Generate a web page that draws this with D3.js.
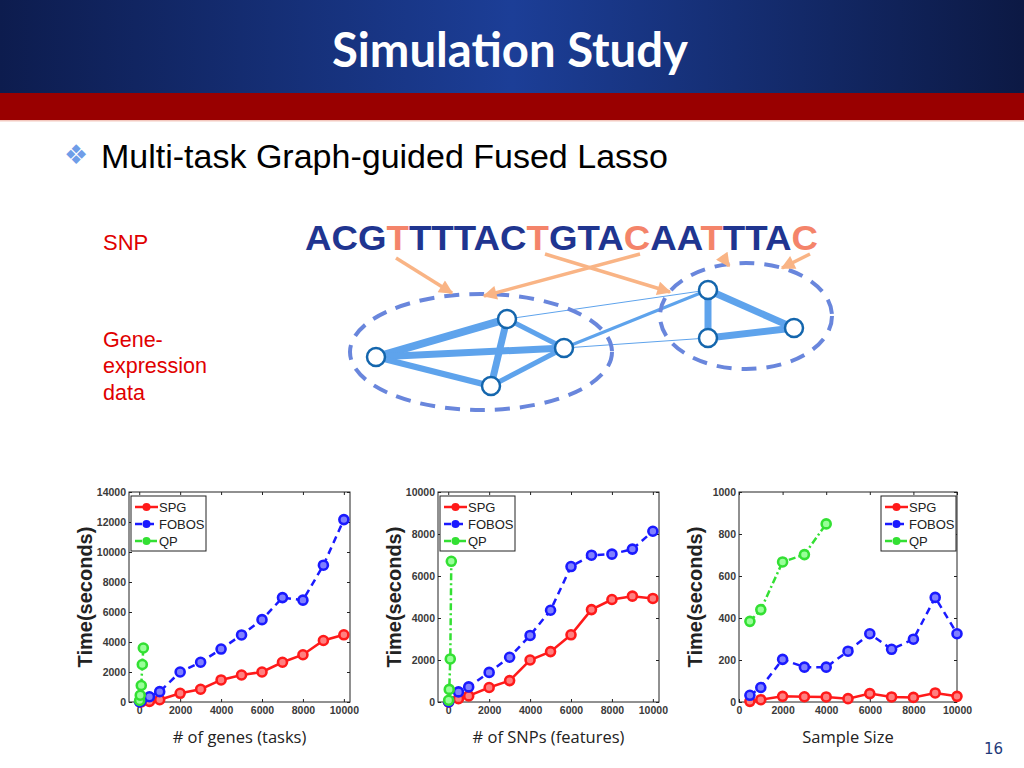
<!DOCTYPE html>
<html><head><meta charset="utf-8">
<script src="https://cdn.jsdelivr.net/npm/d3@7"></script>
<style>body{margin:0;background:#fff}svg{display:block}</style>
</head><body><svg id="s" width="1024" height="768"></svg>
<script>
// ---------- data ----------
const seriesNames = ["SPG", "FOBOS", "QP"];

// Panel 1: # of genes (tasks)
const genesSPG_x   = [100, 500, 1000, 2000, 3000, 4000, 5000, 6000, 7000, 8000, 9000, 10000];
const genesSPG_y   = [10, 40, 150, 580, 850, 1470, 1800, 2000, 2650, 3150, 4100, 4480];
const genesFOBOS_x = [20, 100, 500, 1000, 2000, 3000, 4000, 5000, 6000, 7000, 8000, 9000, 10000];
const genesFOBOS_y = [0, 80, 350, 690, 2000, 2650, 3530, 4470, 5490, 6960, 6790, 9120, 12160];
const genesQP_x    = [20, 50, 100, 150, 200];
const genesQP_y    = [100, 450, 1100, 2500, 3600];
const genesYTicks  = [0, 2000, 4000, 6000, 8000, 10000, 12000, 14000];

// Panel 2: # of SNPs (features)
const snpsSPG_x   = [20, 500, 1000, 2000, 3000, 4000, 5000, 6000, 7000, 8000, 9000, 10000];
const snpsSPG_y   = [0, 160, 290, 690, 1020, 2000, 2400, 3200, 4400, 4880, 5040, 4930];
const snpsFOBOS_x = [20, 500, 1000, 2000, 3000, 4000, 5000, 6000, 7000, 8000, 9000, 10000];
const snpsFOBOS_y = [0, 480, 720, 1410, 2130, 3170, 4370, 6450, 6990, 7040, 7280, 8130];
const snpsQP_x    = [20, 50, 100, 150];
const snpsQP_y    = [80, 600, 2050, 6700];
const snpsYTicks  = [0, 2000, 4000, 6000, 8000, 10000];

// Panel 3: Sample Size
const sampleX       = [500, 1000, 2000, 3000, 4000, 5000, 6000, 7000, 8000, 9000, 10000];
const sampleSPG_y   = [3, 11, 27, 25, 24, 16, 40, 24, 22, 43, 27];
const sampleFOBOS_y = [32, 69, 203, 166, 166, 242, 325, 251, 299, 498, 325];
const sampleQP_x    = [500, 1000, 2000, 3000, 4000];
const sampleQP_y    = [384, 440, 667, 702, 848];
const sampleYTicks  = [0, 200, 400, 600, 800, 1000];

const xTicks = [0, 2000, 4000, 6000, 8000, 10000];
const xLabels = ["# of genes (tasks)", "# of SNPs (features)", "Sample Size"];
const yLabel = "Time(seconds)";

// slide texts
const titleText = "Simulation Study";
const bulletText = "Multi-task Graph-guided Fused Lasso";
const dnaLetters = "ACGTTTTACTGTACAATTTAC".split("");
const dnaHighlight = [3, 9, 13, 16, 20];
const pageNumber = "16";

// ---------- drawing ----------
const svg = d3.select("#s");
const defs = svg.append("defs");
const g1 = defs.append("linearGradient").attr("id", "hdr").attr("x1", "0").attr("x2", "1").attr("y1", "0").attr("y2", "0");
g1.append("stop").attr("offset", "0").attr("stop-color", "#0d1c4e");
g1.append("stop").attr("offset", "0.5").attr("stop-color", "#1c3e97");
g1.append("stop").attr("offset", "1").attr("stop-color", "#0c1944");

svg.append("rect").attr("x", 0).attr("y", 0).attr("width", 1024).attr("height", 93).attr("fill", "url(#hdr)");
svg.append("rect").attr("x", 0).attr("y", 93).attr("width", 1024).attr("height", 27).attr("fill", "#990000");
svg.append("rect").attr("x", 0).attr("y", 120).attr("width", 1024).attr("height", 1.5).attr("fill", "#f3c9c0");

svg.append("text").attr("x", 510).attr("y", 67).attr("text-anchor", "middle")
  .attr("font-family", "Lato, 'Open Sans', sans-serif").attr("font-weight", "bold")
  .attr("font-size", 47).attr("fill", "#fff").attr("textLength", 356).attr("lengthAdjust", "spacingAndGlyphs").text(titleText);

svg.append("text").attr("x", 64).attr("y", 164).attr("font-family", "'DejaVu Sans', sans-serif")
  .attr("font-size", 27).attr("fill", "#6f9de8").text("\u2756");
svg.append("text").attr("x", 101).attr("y", 168).attr("font-family", "'Liberation Sans', Arial, sans-serif")
  .attr("font-size", 34).attr("fill", "#000").text(bulletText);

const redFont = "'Liberation Sans', Arial, sans-serif";
svg.append("text").attr("x", 103).attr("y", 250).attr("font-family", redFont).attr("font-size", 22).attr("fill", "#e00000").text("SNP");
[["Gene-", 347], ["expression", 373], ["data", 400]].forEach(([t, y]) =>
  svg.append("text").attr("x", 103).attr("y", y).attr("font-family", redFont).attr("font-size", 21.5).attr("fill", "#e00000").text(t));

// DNA string
const dna = svg.append("text").attr("x", 305).attr("y", 250).attr("font-family", redFont)
  .attr("font-weight", "bold").attr("font-size", 35).attr("textLength", 513).attr("lengthAdjust", "spacingAndGlyphs");
dnaLetters.forEach((c, i) => dna.append("tspan").attr("fill", dnaHighlight.includes(i) ? "#f4846a" : "#1f3590").text(c));

// graph diagram
const ellipses = [
  {cx: 481, cy: 352, rx: 131, ry: 58},
  {cx: 746, cy: 316, rx: 86, ry: 53}
];
const nodes = [
  {x: 376, y: 357}, {x: 507, y: 319}, {x: 564, y: 348}, {x: 491, y: 386},
  {x: 708, y: 290}, {x: 708, y: 338}, {x: 794, y: 328}
];
const edges = [
  [0, 1, 8], [0, 2, 7], [0, 3, 6], [1, 3, 7], [1, 2, 5], [2, 3, 5],
  [4, 5, 7], [4, 6, 7], [5, 6, 7], [1, 4, 1], [2, 4, 3], [2, 5, 1]
];
svg.selectAll(".edge").data(edges).join("line").attr("class", "edge")
  .attr("x1", d => nodes[d[0]].x).attr("y1", d => nodes[d[0]].y)
  .attr("x2", d => nodes[d[1]].x).attr("y2", d => nodes[d[1]].y)
  .attr("stroke", "#5ea3ec").attr("stroke-width", d => d[2]);
svg.selectAll(".ell").data(ellipses).join("ellipse").attr("class", "ell")
  .attr("cx", d => d.cx).attr("cy", d => d.cy).attr("rx", d => d.rx).attr("ry", d => d.ry)
  .attr("fill", "none").attr("stroke", "#6986dc").attr("stroke-width", 4).attr("stroke-dasharray", "15,10");
svg.selectAll(".node").data(nodes).join("circle").attr("class", "node")
  .attr("cx", d => d.x).attr("cy", d => d.y).attr("r", 9)
  .attr("fill", "#fff").attr("stroke", "#1466ad").attr("stroke-width", 2.5);

// arrows
defs.append("marker").attr("id", "ah").attr("viewBox", "0 0 10 10").attr("refX", 9).attr("refY", 5)
  .attr("markerWidth", 16).attr("markerHeight", 14).attr("markerUnits", "userSpaceOnUse").attr("orient", "auto")
  .append("path").attr("d", "M0,0 L10,5 L0,10 Z").attr("fill", "#f9b485");
const arrows = [
  [396, 258, 452, 293], [640, 254, 484, 296], [545, 254, 670, 292], [722, 256, 729, 266], [810, 254, 782, 268]
];
svg.selectAll(".arr").data(arrows).join("line").attr("class", "arr")
  .attr("x1", d => d[0]).attr("y1", d => d[1]).attr("x2", d => d[2]).attr("y2", d => d[3])
  .attr("stroke", "#f9b485").attr("stroke-width", 3.5).attr("marker-end", "url(#ah)");

// ---------- charts ----------
const colors = {SPG: "#ff1a1a", FOBOS: "#1a1aff", QP: "#33e033"};
const fills  = {SPG: "#ff8080", FOBOS: "#8080ff", QP: "#99ff99"};
const dashes = {SPG: null, FOBOS: "7,5", QP: "7,3,2,3"};

const panels = [
  {xd: [-500, 10300], xr: [129, 350], yd: [0, 14000], yt: genesYTicks, legX: 131,
   series: [[genesSPG_x, genesSPG_y], [genesFOBOS_x, genesFOBOS_y], [genesQP_x, genesQP_y]]},
  {xd: [-500, 10300], xr: [438, 659], yd: [0, 10000], yt: snpsYTicks, legX: 440,
   series: [[snpsSPG_x, snpsSPG_y], [snpsFOBOS_x, snpsFOBOS_y], [snpsQP_x, snpsQP_y]]},
  {xd: [0, 10000], xr: [739, 957], yd: [0, 1000], yt: sampleYTicks, legX: 881,
   series: [[sampleX, sampleSPG_y], [sampleX, sampleFOBOS_y], [sampleQP_x, sampleQP_y]]}
];
const plotTop = 492, plotBottom = 702;
const tickFont = "'Liberation Sans', Arial, sans-serif";

panels.forEach((p, pi) => {
  const x = d3.scaleLinear().domain(p.xd).range(p.xr);
  const y = d3.scaleLinear().domain(p.yd).range([plotBottom, plotTop]);
  const g = svg.append("g");
  const styleAxis = sel => {
    sel.select(".domain").remove();
    sel.selectAll("line").attr("stroke", "#222");
    sel.selectAll("text").attr("font-family", tickFont).attr("font-size", 10.5).attr("font-weight", "bold").attr("fill", "#3a3a3a");
  };
  g.append("g").attr("transform", `translate(${p.xr[0]},0)`).call(d3.axisLeft(y).tickValues(p.yt).tickSize(-3).tickPadding(3).tickFormat(d3.format("d"))).call(styleAxis);
  g.append("g").attr("transform", `translate(${p.xr[1]},0)`).call(d3.axisRight(y).tickValues(p.yt).tickSize(-3).tickFormat("")).call(styleAxis);
  g.append("g").attr("transform", `translate(0,${plotBottom})`).call(d3.axisBottom(x).tickValues(xTicks).tickSize(-3).tickPadding(5).tickFormat(d3.format("d"))).call(styleAxis);
  g.append("g").attr("transform", `translate(0,${plotTop})`).call(d3.axisTop(x).tickValues(xTicks).tickSize(-3).tickFormat("")).call(styleAxis);
  g.append("rect").attr("x", p.xr[0]).attr("y", plotTop).attr("width", p.xr[1] - p.xr[0]).attr("height", plotBottom - plotTop)
    .attr("fill", "none").attr("stroke", "#222").attr("stroke-width", 1);

  p.series.forEach(([xs, ys], si) => {
    const name = seriesNames[si];
    const pts = xs.map((v, i) => [v, ys[i]]);
    g.append("path").datum(pts).attr("d", d3.line().x(d => x(d[0])).y(d => y(d[1])))
      .attr("fill", "none").attr("stroke", colors[name]).attr("stroke-width", 2.5)
      .attr("stroke-dasharray", dashes[name]);
    g.selectAll(".m" + si).data(pts).join("circle").attr("cx", d => x(d[0])).attr("cy", d => y(d[1]))
      .attr("r", 4.5).attr("fill", fills[name]).attr("stroke", colors[name]).attr("stroke-width", 2.6);
  });

  // legend
  const lg = g.append("g").attr("transform", `translate(${p.legX},496)`);
  lg.append("rect").attr("width", 75).attr("height", 55).attr("fill", "#fff").attr("stroke", "#222").attr("stroke-width", 1);
  seriesNames.forEach((name, i) => {
    const yy = 11 + i * 17;
    lg.append("line").attr("x1", 4).attr("x2", 27).attr("y1", yy).attr("y2", yy)
      .attr("stroke", colors[name]).attr("stroke-width", 2.5).attr("stroke-dasharray", dashes[name]);
    lg.append("circle").attr("cx", 15.5).attr("cy", yy).attr("r", 4).attr("fill", colors[name]);
    lg.append("text").attr("x", 28).attr("y", yy + 4.5).attr("font-family", tickFont).attr("font-size", 13)
      .attr("fill", "#222").text(name);
  });

  // axis labels
  const cx = (p.xr[0] + p.xr[1]) / 2;
  g.append("text").attr("x", cx).attr("y", 743).attr("text-anchor", "middle")
    .attr("font-family", "'Open Sans', sans-serif").attr("font-size", 16.5).attr("fill", "#222").text(xLabels[pi]);
  g.append("text").attr("transform", `translate(${p.xr[0] - 37},${(plotTop + plotBottom) / 2}) rotate(-90)`)
    .attr("text-anchor", "middle").attr("font-family", tickFont).attr("font-weight", "bold")
    .attr("font-size", 20).attr("fill", "#222").text(yLabel);
});

svg.append("text").attr("x", 1003).attr("y", 754).attr("text-anchor", "end")
  .attr("font-family", "'DejaVu Sans', sans-serif").attr("font-size", 15).attr("fill", "#1f3a7a").text(pageNumber);
</script>
</body></html>
